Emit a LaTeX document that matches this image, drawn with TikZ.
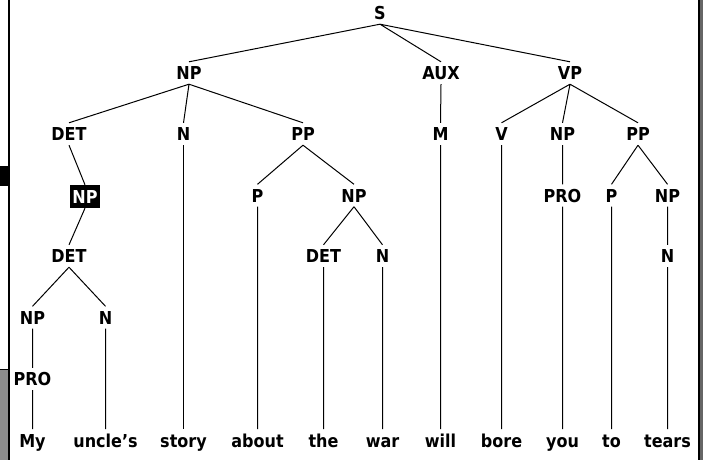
\documentclass[tikz,border=0pt]{standalone}
\usepackage{fontspec}
\setmainfont{DejaVu Sans}[FakeStretch=0.9]
\begin{document}
\begin{tikzpicture}
  [x=1pt,y=-1pt,
  every node/.style={font=\fontsize{17.8}{20}\selectfont\bfseries,
    inner xsep=1pt,inner ysep=4.5pt,text height=13pt,text depth=0pt},
  word/.style={anchor=base,inner ysep=5pt,text depth=4pt},
  marked/.style={fill=black,text=white,inner xsep=2.5pt,inner ysep=5pt},
  edge/.style={line width=1pt}]
\useasboundingbox (0,0) rectangle (703,460);
% window frame
\fill (7.5,0) rectangle (10,460);
\fill (0,166) rectangle (7.5,186);
\fill[black!45] (0,369) rectangle (7.5,460);
\draw[line width=1pt] (0,369.5) -- (7.5,369.5);
\fill (697.5,0) rectangle (699.5,460);
\fill[black!60] (699.5,0) rectangle (703,460);
% nodes
\node (s) at (380,13) {S};
\node (np1) at (189,73) {NP};
\node (aux) at (441,73) {AUX};
\node (vp) at (570,73) {VP};
\node (det1) at (69,134) {DET};
\node (n1) at (183.5,134) {N};
\node (pp1) at (303,134) {PP};
\node (m) at (440.5,134) {M};
\node (v) at (501.5,134) {V};
\node (np5) at (562.5,134) {NP};
\node (pp2) at (638,134) {PP};
\node[marked] (np2) at (85,196.5) {NP};
\node (p1) at (257.5,195.5) {P};
\node (np4) at (354,195.5) {NP};
\node (pro2) at (562.5,195.5) {PRO};
\node (p2) at (611.5,195.5) {P};
\node (np6) at (667.5,195.5) {NP};
\node (det2) at (69,256) {DET};
\node (det3) at (323.5,256) {DET};
\node (n3) at (382.5,256) {N};
\node (n4) at (667.5,256) {N};
\node (np3) at (32.5,317.5) {NP};
\node (n2) at (105.5,317.5) {N};
\node (pro1) at (32.5,379) {PRO};
\node[word] (my) at (32.5,447.3) {My};
\node[word] (uncles) at (105.5,447.3) {uncle’s};
\node[word] (story) at (183.5,447.3) {story};
\node[word] (about) at (257.5,447.3) {about};
\node[word] (the) at (323.5,447.3) {the};
\node[word] (war) at (382.5,447.3) {war};
\node[word] (will) at (440.5,447.3) {will};
\node[word] (bore) at (501.5,447.3) {bore};
\node[word] (you) at (562.5,447.3) {you};
\node[word] (to) at (611.5,447.3) {to};
\node[word] (tears) at (667.5,447.3) {tears};
% branches
\draw[edge] (s.south) -- (np1.north) (s.south) -- (aux.north) (s.south) -- (vp.north);
\draw[edge] (np1.south) -- (det1.north) (np1.south) -- (n1.north) (np1.south) -- (pp1.north);
\draw[edge] (det1.south) -- (np2.north) (np2.south) -- (det2.north)
  (det2.south) -- (np3.north) (det2.south) -- (n2.north)
  (np3.south) -- (pro1.north) (pro1.south) -- (my.north) (n2.south) -- (uncles.north);
\draw[edge] (n1.south) -- (story.north);
\draw[edge] (pp1.south) -- (p1.north) (pp1.south) -- (np4.north) (p1.south) -- (about.north)
  (np4.south) -- (det3.north) (np4.south) -- (n3.north)
  (det3.south) -- (the.north) (n3.south) -- (war.north);
\draw[edge] (aux.south) -- (m.north) (m.south) -- (will.north);
\draw[edge] (vp.south) -- (v.north) (vp.south) -- (np5.north) (vp.south) -- (pp2.north)
  (v.south) -- (bore.north) (np5.south) -- (pro2.north) (pro2.south) -- (you.north)
  (pp2.south) -- (p2.north) (pp2.south) -- (np6.north) (p2.south) -- (to.north)
  (np6.south) -- (n4.north) (n4.south) -- (tears.north);
\end{tikzpicture}
\end{document}
